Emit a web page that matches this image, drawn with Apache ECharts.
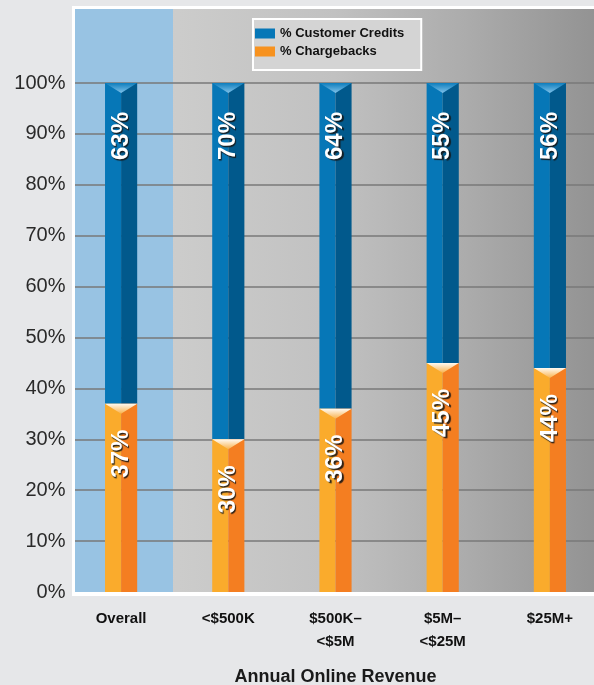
<!DOCTYPE html>
<html>
<head>
<meta charset="utf-8">
<script src="https://cdn.jsdelivr.net/npm/echarts@6/dist/echarts.min.js"></script>
<style>
  html, body { margin: 0; padding: 0; background: #e6e7e9; }
  #chart { width: 594px; height: 685px; }
</style>
</head>
<body>
<div id="chart"></div>
<script>
// Revenue bands along the x axis
const categories = ['Overall', '<$500K', '$500K–\n<$5M', '$5M–\n<$25M', '$25M+'];
// Share of disputes handled as chargebacks vs. customer credits (percent)
const chargebacks = [37, 30, 36, 45, 44];
const customerCredits = [63, 70, 64, 55, 56];
// Y axis ticks
const yTicks = [0, 10, 20, 30, 40, 50, 60, 70, 80, 90, 100];

const seriesNames = ['% Customer Credits', '% Chargebacks'];

// Stacked segments: [category index, start, end, share]
const chargeData = chargebacks.map((v, i) => [i, 0, v, v]);
const creditData = customerCredits.map((v, i) => [i, chargebacks[i], chargebacks[i] + v, v]);

const palettes = {
  credits: {
    left: '#0677b7', right: '#01598c',
    bevel: [{ offset: 0, color: '#0d7dbd' }, { offset: 1, color: '#7fc2ea' }]
  },
  charge: {
    left: '#faab2c', right: '#f47e21',
    bevel: [{ offset: 0, color: '#fffaf2' }, { offset: 1, color: '#f9b24c' }]
  }
};

function prismRenderer(pal, labelOffset) {
  return function (params, api) {
    const i = api.value(0);
    const lo = api.value(1);
    const hi = api.value(2);
    const share = api.value(3);
    const pLo = api.coord([i, lo]);
    const pHi = api.coord([i, hi]);
    const w = api.size([1, 0])[0] * 0.3;
    const xc = pLo[0];
    const x0 = xc - w / 2;
    const x1 = xc + w / 2;
    const top = pHi[1];
    const bot = pLo[1];
    const bevelH = 10;
    return {
      type: 'group',
      children: [
        { type: 'rect', shape: { x: x0, y: top, width: xc - x0, height: bot - top },
          style: { fill: pal.left } },
        { type: 'rect', shape: { x: xc, y: top, width: x1 - xc, height: bot - top },
          style: { fill: pal.right } },
        { type: 'polygon', shape: { points: [[x0, top], [x1, top], [xc, top + bevelH]] },
          style: { fill: new echarts.graphic.LinearGradient(0, 0, 0, 1, pal.bevel) } },
        { type: 'text', x: xc, y: top + labelOffset, rotation: Math.PI / 2,
          style: {
            text: share + '%', fill: '#ffffff',
            font: 'bold 24px "Liberation Sans", Arial, sans-serif',
            align: 'right', verticalAlign: 'middle',
            textShadowColor: 'rgba(20,20,20,0.9)', textShadowOffsetX: 1.5, textShadowOffsetY: 1.5,
            textShadowBlur: 1
          } }
      ]
    };
  };
}

const chart = echarts.init(document.getElementById('chart'), null, { renderer: 'canvas' });

chart.setOption({
  animation: false,
  backgroundColor: '#e6e7e9',
  graphic: [
    { type: 'rect', z: 0, shape: { x: 72, y: 6, width: 522, height: 590 }, style: { fill: '#ffffff' } },
    { type: 'rect', z: 0, shape: { x: 75, y: 9, width: 519, height: 583 },
      style: { fill: new echarts.graphic.LinearGradient(0, 0, 1, 0, [
        { offset: 0, color: '#d0d0cf' },
        { offset: 0.2, color: '#cccccb' },
        { offset: 0.5, color: '#c1c1c1' },
        { offset: 0.75, color: '#acacac' },
        { offset: 1, color: '#939393' }
      ]) } },
    { type: 'rect', z: 0, shape: { x: 75, y: 9, width: 98, height: 583 }, style: { fill: '#98c3e3' } }
  ],
  legend: {
    data: seriesNames,
    orient: 'vertical',
    left: 253, top: 19,
    itemWidth: 20, itemHeight: 10, itemGap: 5,
    padding: [8, 17, 12, 2],
    backgroundColor: '#d4d4d4',
    borderColor: '#ffffff', borderWidth: 2, borderRadius: 0,
    icon: 'rect',
    textStyle: { fontFamily: '"Liberation Sans", Arial, sans-serif', fontWeight: 'bold', fontSize: 13, color: '#111' },
    selectedMode: false
  },
  grid: [
    { left: 67.5, top: 83, width: 536, bottom: 93, containLabel: false, outerBoundsMode: 'none' },
    // gridlines from 10% to 100% only; the panel's bottom edge stands in for 0%
    { left: 75, top: 83, right: 0, bottom: 143.9, containLabel: false, outerBoundsMode: 'none' }
  ],
  xAxis: [
    {
      type: 'category', gridIndex: 0, data: categories, boundaryGap: true,
      axisLine: { show: false }, axisTick: { show: false },
      axisLabel: {
        interval: 0, margin: 15, lineHeight: 23,
        fontFamily: '"Liberation Sans", Arial, sans-serif',
        fontWeight: 'bold', fontSize: 15, color: '#111'
      },
      name: 'Annual Online Revenue', nameLocation: 'middle', nameGap: 76,
      nameTextStyle: { fontFamily: '"Liberation Sans", Arial, sans-serif', fontWeight: 'bold', fontSize: 18, color: '#1a1a1a' }
    },
    { type: 'value', gridIndex: 1, show: false, min: 0, max: 1 }
  ],
  yAxis: [
    {
      type: 'value', gridIndex: 0, min: 0, max: 100, interval: 10, z: 1,
      axisLine: { show: false }, axisTick: { show: false }, splitLine: { show: false },
      axisLabel: {
        margin: 2, fontSize: 20, color: '#2a2a2a',
        fontFamily: '"Liberation Sans", Arial, sans-serif',
        formatter: v => (yTicks.indexOf(v) >= 0 ? v + '%' : '')
      }
    },
    {
      type: 'value', gridIndex: 1, min: 10, max: 100, interval: 10, z: 1,
      axisLine: { show: false }, axisTick: { show: false }, axisLabel: { show: false },
      splitLine: { show: true, lineStyle: { color: 'rgba(120,120,120,0.75)', width: 2 } }
    }
  ],
  series: [
    {
      name: seriesNames[0], type: 'custom', xAxisIndex: 0, yAxisIndex: 0, z: 3,
      itemStyle: { color: '#0677b7' },
      renderItem: prismRenderer(palettes.credits, 29),
      encode: { x: 0, y: [1, 2] },
      data: creditData
    },
    {
      name: seriesNames[1], type: 'custom', xAxisIndex: 0, yAxisIndex: 0, z: 3,
      itemStyle: { color: '#f7921f' },
      renderItem: prismRenderer(palettes.charge, 26),
      encode: { x: 0, y: [1, 2] },
      data: chargeData
    }
  ]
});
</script>
</body>
</html>
